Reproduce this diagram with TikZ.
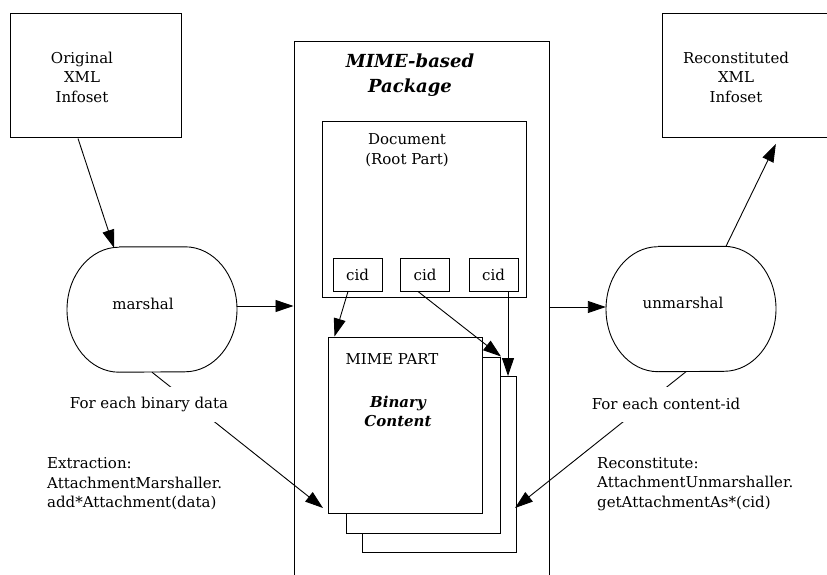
\documentclass[tikz,border=0pt]{standalone}
\usepackage{fontspec}
\setmainfont{DejaVu Serif}
\usetikzlibrary{arrows.meta}
\begin{document}
\begin{tikzpicture}[x=1pt,y=-1pt,
  box/.style={draw, line width=1pt, inner sep=0pt},
  page/.style={draw, line width=1pt, fill=white, inner sep=0pt, minimum width=154pt, minimum height=176pt},
  cidbox/.style={draw, line width=1pt, inner sep=0pt, minimum width=49pt, minimum height=33pt, font=\fontsize{15}{19.5}\selectfont},
  stad/.style={inner sep=0pt, minimum width=170pt, minimum height=125pt},
  stadline/.style={line width=0.9pt},
  txt/.style={font=\fontsize{15}{19.5}\selectfont, align=center, inner sep=0pt},
  ltxt/.style={font=\fontsize{15}{19.5}\selectfont, align=left, inner sep=0pt, anchor=west},
  btxt/.style={font=\fontsize{18}{25}\selectfont\bfseries\itshape, align=center, inner sep=0pt},
  lbl/.style={font=\fontsize{15}{19.5}\selectfont, fill=white, inner xsep=2pt, minimum height=35pt},
  arr/.style={-{Triangle[length=18pt,width=12pt]}, line width=0.9pt},
  ]
\clip (0,0) rectangle (827,575);
% boxes
\node[box, minimum width=171pt, minimum height=124pt] (orig) at (95.5,76) {};
\node[txt] (origt) at (82,77) {Original\\XML\\Infoset};
\node[box, minimum width=165pt, minimum height=124pt] (recon) at (744.5,76) {};
\node[txt] (recont) at (736,77) {Reconstituted\\XML\\Infoset};
\node[box, minimum width=255pt, minimum height=600pt] (pkg) at (421.5,342) {};
\node[btxt] (pkgt) at (410,75.5) {MIME-based\\Package};
\node[box, minimum width=204pt, minimum height=175pt] (doc) at (424,209.5) {};
\node[txt] (doct) at (407,150) {Document\\(Root Part)};
\node[cidbox] (cid1) at (357.5,274.5) {cid};
\node[cidbox] (cid2) at (425,274.5) {cid};
\node[cidbox] (cid3) at (493.5,274.5) {cid};
% pages
\node[page] (page3) at (439,464.5) {};
\node[page] (page2) at (423.5,445) {};
\node[page] (page1) at (405,425) {};
\node[txt] (mimet) at (392,359) {MIME PART};
\node[txt, font=\fontsize{15}{19}\selectfont\bfseries\itshape] (bint) at (398,411) {Binary\\Content};
% stadiums
\node[stad] (marshal) at (152,309.5) {};
\draw[stadline] ([xshift=-33pt]marshal.north) -- ([xshift=33pt]marshal.north)
  arc[start angle=90, end angle=-90, x radius=52pt, y radius=62.5pt]
  -- ([xshift=-33pt]marshal.south)
  arc[start angle=270, end angle=90, x radius=52pt, y radius=62.5pt];
\node[txt] (marshalt) at (143,304) {marshal};
\node[stad] (unmarshal) at (691,309) {};
\draw[stadline] ([xshift=-33pt]unmarshal.north) -- ([xshift=33pt]unmarshal.north)
  arc[start angle=90, end angle=-90, x radius=52pt, y radius=62.5pt]
  -- ([xshift=-33pt]unmarshal.south)
  arc[start angle=270, end angle=90, x radius=52pt, y radius=62.5pt];
\node[txt] (unmarshalt) at (683,303) {unmarshal};
% connectors
\coordinate (ltip) at (323,508);
\coordinate (rtip) at (515,508);
\draw[arr] ([xshift=-17.5pt]orig.south) -- ([xshift=-38pt,yshift=-1pt]marshal.north);
\draw[arr] ([yshift=3.5pt]marshal.east) -- ([yshift=3.5pt]marshal.east -| pkg.west);
\draw[arr] ([yshift=2pt]pkg.east |- unmarshal.west) -- ([yshift=2pt]unmarshal.west);
\draw[arr, shorten >=6pt] ([xshift=35pt]unmarshal.north) -- ([xshift=34pt]recon.south);
\draw[arr] ([xshift=-9.5pt]cid1.south) -- ([xshift=7pt]page1.north west);
\draw[arr] ([xshift=-7pt]cid2.south) -- (page2.north east);
\draw[arr] ([xshift=14.5pt]cid3.south) -- ([xshift=14.5pt]cid3.south |- page3.north);
\draw[arr] (marshal.south) -- (ltip);
\draw[arr] ([xshift=-5pt]unmarshal.south) -- (rtip);
% labels
\node[lbl] (lbl1) at (149,404) {For each binary data};
\node[lbl] (lbl2) at (666,404) {For each content-id};
\node[ltxt] (extr) at (47,484) {Extraction:\\AttachmentMarshaller.\\add*Attachment(data)};
\node[ltxt] (recs) at (597,484) {Reconstitute:\\AttachmentUnmarshaller.\\getAttachmentAs*(cid)};
\end{tikzpicture}
\end{document}
